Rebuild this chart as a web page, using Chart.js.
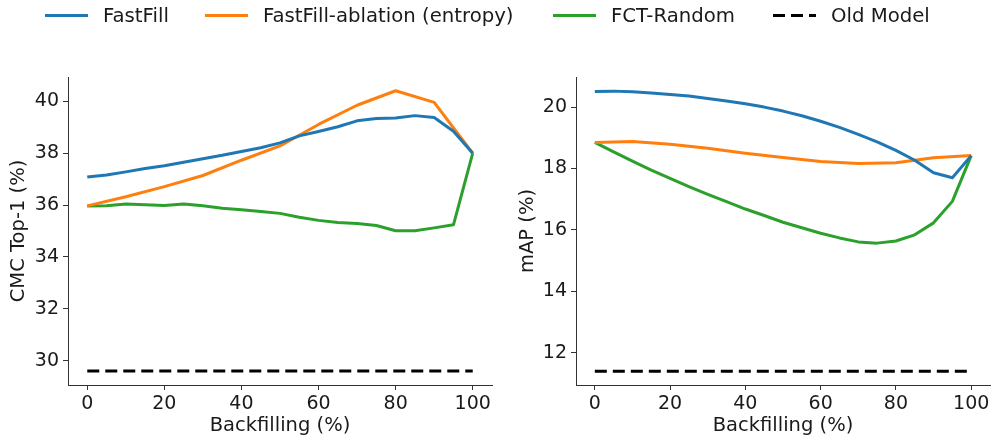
<!DOCTYPE html>
<html>
<head>
<meta charset="utf-8">
<script src="https://cdn.jsdelivr.net/npm/chart.js@4/dist/chart.umd.min.js"></script>
<style>
  body { margin: 0; background: #fff; font-family: "DejaVu Sans", sans-serif; }
  #wrap { position: relative; width: 1001px; height: 440px; overflow: hidden; }
  #leftBox { position: absolute; left: 0; top: 0; width: 500px; height: 440px; }
  #rightBox { position: absolute; left: 500px; top: 0; width: 501px; height: 440px; }
  .leg { position: absolute; top: 4px; height: 24px; font-size: 19.7px; color: #1a1a1a; white-space: nowrap; }
  .leg .sw { position: absolute; top: 10px; width: 43px; height: 3px; }
  .leg .tx { position: absolute; top: 0; line-height: 24px; }
</style>
</head>
<body>
<div id="wrap">
  <div id="leftBox"><canvas id="cmc"></canvas></div>
  <div id="rightBox"><canvas id="map"></canvas></div>
  <div id="legend"></div>
</div>
<script>
// backfilling percentages
var backfill5 = [0, 5, 10, 15, 20, 25, 30, 35, 40, 45, 50, 55, 60, 65, 70, 75, 80, 85, 90, 95, 100];
var backfill10 = [0, 10, 20, 30, 40, 50, 60, 70, 80, 90, 100];
var oldX = [0, 100];

// CMC Top-1 (%)
var cmcFastFill = [37.08, 37.16, 37.28, 37.41, 37.52, 37.65, 37.79, 37.92, 38.07, 38.21, 38.40, 38.67, 38.84, 39.02, 39.25, 39.34, 39.36, 39.45, 39.38, 38.85, 38.0];
var cmcAblation = [35.97, 36.32, 36.71, 37.14, 37.73, 38.28, 39.11, 39.85, 40.41, 39.96, 38.0];
var cmcRandom = [35.96, 35.97, 36.04, 36.01, 35.98, 36.04, 35.97, 35.88, 35.82, 35.75, 35.68, 35.53, 35.41, 35.33, 35.29, 35.21, 35.01, 35.01, 35.12, 35.24, 38.0];
var cmcOld = [29.6, 29.6];

// mAP (%)
var mapFastFill = [20.51, 20.52, 20.50, 20.46, 20.41, 20.36, 20.28, 20.20, 20.11, 20.0, 19.87, 19.72, 19.54, 19.34, 19.11, 18.87, 18.59, 18.27, 17.86, 17.70, 18.42];
var mapAblation = [18.85, 18.88, 18.79, 18.66, 18.50, 18.36, 18.23, 18.16, 18.19, 18.35, 18.42];
var mapRandom = [18.85, 18.54, 18.24, 17.95, 17.68, 17.41, 17.16, 16.92, 16.68, 16.47, 16.25, 16.07, 15.89, 15.74, 15.61, 15.57, 15.64, 15.84, 16.23, 16.93, 18.42];
var mapOld = [11.4, 11.4];

var xTicks = [0, 20, 40, 60, 80, 100];
var cmcTicks = [30, 32, 34, 36, 38, 40];
var mapTicks = [12, 14, 16, 18, 20];

var seriesNames = ['FastFill', 'FastFill-ablation (entropy)', 'FCT-Random', 'Old Model'];
var colors = ['#1f77b4', '#ff7f0e', '#2ca02c', '#000000'];

function pts(xs, ys) {
  return xs.map(function (x, i) { return {x: x, y: ys[i]}; });
}

function makeDatasets(a, b, c, d) {
  return [
    {label: seriesNames[0], data: pts(backfill5, a), borderColor: colors[0]},
    {label: seriesNames[1], data: pts(backfill10, b), borderColor: colors[1]},
    {label: seriesNames[2], data: pts(backfill5, c), borderColor: colors[2]},
    {label: seriesNames[3], data: pts(oldX, d), borderColor: colors[3], borderDash: [12, 6]}
  ].map(function (ds) {
    ds.borderWidth = 3;
    ds.pointRadius = 0;
    ds.tension = 0;
    ds.fill = false;
    ds.borderJoinStyle = 'round';
    return ds;
  });
}

function makeChart(id, datasets, yTicks, yMin, yMax, yTitle, yWidth, titlePad, padRight) {
  var tickFont = {family: 'DejaVu Sans', size: 19};
  var titleFont = {family: 'DejaVu Sans', size: 19.5};
  return new Chart(document.getElementById(id), {
    type: 'line',
    data: {datasets: datasets},
    options: {
      responsive: true,
      maintainAspectRatio: false,
      animation: false,
      layout: {padding: {top: 77, right: padRight, bottom: 0, left: 0}},
      plugins: {legend: {display: false}, tooltip: {enabled: false}},
      scales: {
        x: {
          type: 'linear', min: -5, max: 105,
          afterBuildTicks: function (s) { s.ticks = xTicks.map(function (v) { return {value: v}; }); },
          afterFit: function (s) { s.height = 55; s.paddingLeft = 0; s.paddingRight = 0; },
          ticks: {font: tickFont, color: '#1a1a1a', padding: 3, maxRotation: 0, autoSkip: false},
          grid: {drawOnChartArea: false, drawTicks: true, tickLength: 5, color: '#333'},
          border: {display: true, color: '#333', width: 1},
          title: {display: true, text: 'Backfilling (%)', font: titleFont, color: '#1a1a1a', padding: {top: 0, bottom: 2}}
        },
        y: {
          type: 'linear', min: yMin, max: yMax,
          afterBuildTicks: function (s) { s.ticks = yTicks.map(function (v) { return {value: v}; }); },
          afterFit: function (s) { s.width = yWidth; s.paddingTop = 0; s.paddingBottom = 0; },
          ticks: {font: tickFont, color: '#1a1a1a', padding: 4, autoSkip: false},
          grid: {drawOnChartArea: false, drawTicks: true, tickLength: 5, color: '#333'},
          border: {display: true, color: '#333', width: 1},
          title: {display: true, text: yTitle, font: titleFont, color: '#1a1a1a', padding: {top: titlePad, bottom: 0}}
        }
      }
    }
  });
}

makeChart('cmc', makeDatasets(cmcFastFill, cmcAblation, cmcRandom, cmcOld), cmcTicks, 29.06, 40.94, 'CMC Top-1 (%)', 68, 7, 8);
makeChart('map', makeDatasets(mapFastFill, mapAblation, mapRandom, mapOld), mapTicks, 10.95, 20.98, 'mAP (%)', 76, 16, 11);

// shared legend across both panels
var legendX = [45, 205, 553, 773];
var legend = document.getElementById('legend');
seriesNames.forEach(function (name, i) {
  var item = document.createElement('div');
  item.className = 'leg';
  item.style.left = legendX[i] + 'px';
  var sw = document.createElement('span');
  sw.className = 'sw';
  sw.style.left = '0px';
  if (i === 3) {
    sw.style.background = 'repeating-linear-gradient(to right, #000 0px, #000 12px, transparent 12px, transparent 18px)';
  } else {
    sw.style.background = colors[i];
  }
  var tx = document.createElement('span');
  tx.className = 'tx';
  tx.style.left = '58px';
  tx.textContent = name;
  item.appendChild(sw);
  item.appendChild(tx);
  legend.appendChild(item);
});
</script>
</body>
</html>
